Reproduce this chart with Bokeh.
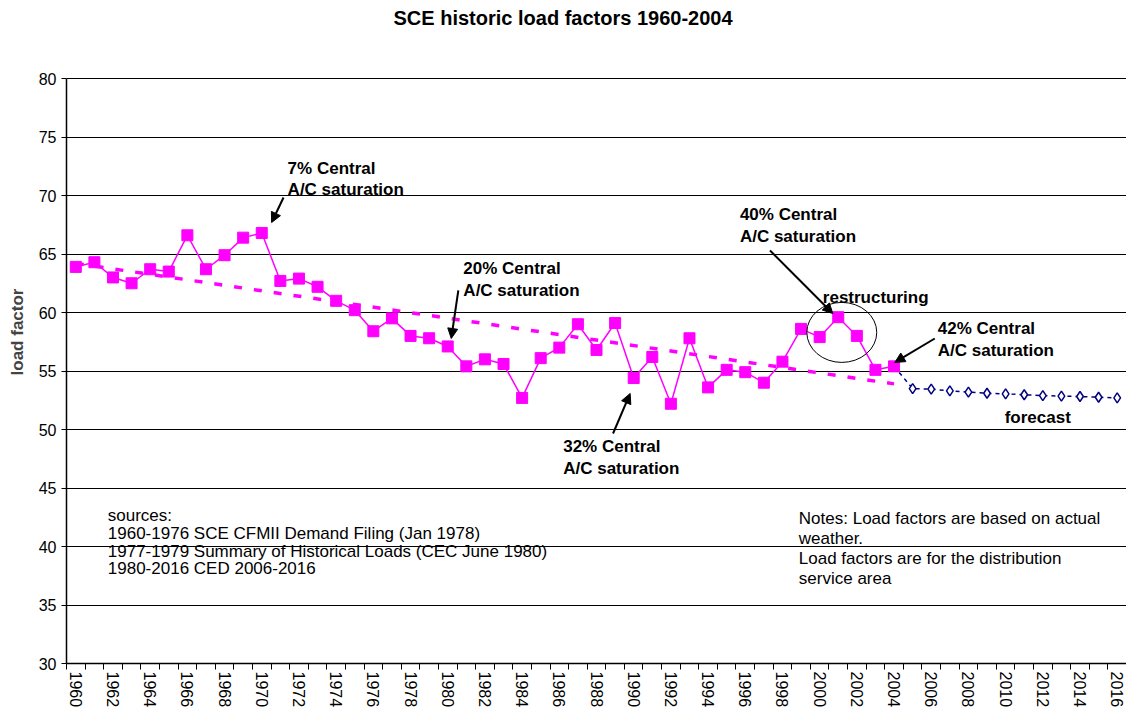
from bokeh.plotting import figure
from bokeh.models import Range1d, FixedTicker, Label, Arrow, NormalHead
from bokeh.embed import file_html
from bokeh.resources import INLINE

# ---------------- data ----------------
hist_years = list(range(1960, 2005))
hist_lf = [63.9, 64.3, 63.0, 62.5, 63.7, 63.5, 66.6, 63.7, 64.9, 66.4,
           66.8, 62.7, 62.9, 62.2, 61.0, 60.2, 58.4, 59.5, 58.0, 57.8,
           57.1, 55.4, 56.0, 55.6, 52.7, 56.1, 57.0, 59.0, 56.8, 59.1,
           54.4, 56.2, 52.2, 57.8, 53.6, 55.1, 54.9, 54.0, 55.8, 58.6,
           57.9, 59.6, 58.0, 55.1, 55.4]
fc_years = list(range(2004, 2017))
fc_lf = [55.4, 53.5, 53.45, 53.3, 53.2, 53.1, 53.05, 52.97, 52.9, 52.85,
         52.82, 52.76, 52.7]
trend_years = [1960, 2004]
trend_lf = [64.2, 53.9]

y_ticks = [30, 35, 40, 45, 50, 55, 60, 65, 70, 75, 80]
x_label_years = list(range(1960, 2017, 2))
x_tick_marks = [y - 0.5 for y in range(1960, 2018)]

FONT = "Liberation Sans"
MAG = "#FF00FF"
NAVY = "#000080"

# frame spans the whole height above the axis; the value axis itself is
# bounded to 30-80 so the title can sit in the headroom above it
p = figure(width=1126, height=713, output_backend="svg", toolbar_location=None,
           x_range=Range1d(1959.5, 2016.5), y_range=Range1d(30, 86.67),
           min_border_left=66, min_border_right=0, min_border_top=0,
           min_border_bottom=50)

p.outline_line_color = None
p.xgrid.visible = False
p.ygrid.ticker = FixedTicker(ticks=y_ticks)
p.ygrid.grid_line_color = "black"
p.ygrid.grid_line_width = 1

# y axis
p.yaxis.ticker = FixedTicker(ticks=y_ticks)
p.yaxis.bounds = (30, 80)
p.yaxis.axis_label = "load factor"
p.yaxis.axis_label_text_font = FONT
p.yaxis.axis_label_text_font_size = "17px"
p.yaxis.axis_label_text_font_style = "bold"
p.yaxis.axis_label_standoff = 9
p.yaxis.major_label_text_font = FONT
p.yaxis.major_label_text_font_size = "16px"
p.yaxis.major_label_text_color = "black"
p.yaxis.axis_line_color = "black"
p.yaxis.axis_line_width = 1.5
p.yaxis.major_tick_line_color = "black"
p.yaxis.major_tick_out = 5
p.yaxis.major_tick_in = 0
p.yaxis.minor_tick_line_color = None
p.yaxis.major_label_standoff = 5

# x axis
p.xaxis.ticker = FixedTicker(ticks=x_label_years, minor_ticks=x_tick_marks)
p.xaxis.major_tick_line_color = None
p.xaxis.major_tick_out = 6
p.xaxis.minor_tick_line_color = "black"
p.xaxis.minor_tick_out = 6
p.xaxis.minor_tick_in = 0
p.xaxis.axis_line_color = "black"
p.xaxis.axis_line_width = 1.5
p.xaxis.major_label_orientation = "vertical"
p.xaxis.major_label_text_font = FONT
p.xaxis.major_label_text_font_size = "16px"
p.xaxis.major_label_text_color = "black"
p.xaxis.major_label_standoff = 2

# series
p.line(trend_years, trend_lf, line_color=MAG, line_width=3.5, line_dash="8 12")
p.line(fc_years, fc_lf, line_color=NAVY, line_width=1.5, line_dash="4 4")
p.scatter(fc_years[1:], fc_lf[1:], marker="diamond", size=10,
          line_color=NAVY, line_width=1.5, fill_color="white")
p.line(hist_years, hist_lf, line_color=MAG, line_width=1.5)
p.scatter(hist_years, hist_lf, marker="square", size=11,
          line_color=MAG, fill_color=MAG)

# circle around restructuring years
p.ellipse(x=2001.19, y=58.3, width=3.76, height=5.13,
          fill_color=None, line_color="black", line_width=1)


def blabel(x, y, text, bold=True, size="17px", align="left"):
    p.add_layout(Label(x=x, y=y, text=text, text_font=FONT,
                       text_font_size=size,
                       text_font_style="bold" if bold else "normal",
                       text_baseline="middle", text_align=align,
                       text_color="black"))


def arrow(x0, y0, x1, y1):
    p.add_layout(Arrow(x_start=x0, y_start=y0, x_end=x1, y_end=y1,
                       line_color="black", line_width=2,
                       end=NormalHead(size=10, fill_color="black",
                                      line_color="black")))


# chart title
blabel(1986.2, 85.2, "SCE historic load factors 1960-2004", size="20px",
       align="center")

blabel(1971.39, 72.31, "7% Central")
blabel(1971.39, 70.51, "A/C saturation")
arrow(1971.17, 69.83, 1970.53, 67.69)

blabel(1980.84, 63.76, "20% Central")
blabel(1980.84, 61.88, "A/C saturation")
arrow(1980.57, 61.9, 1980.19, 57.78)

blabel(1986.21, 48.55, "32% Central")
blabel(1986.21, 46.67, "A/C saturation")
arrow(1988.89, 49.66, 1989.81, 53.08)

blabel(1995.71, 68.38, "40% Central")
blabel(1995.71, 66.50, "A/C saturation")
arrow(1997.33, 65.30, 2000.71, 59.91)

blabel(2000.17, 61.28, "restructuring")

blabel(2006.35, 58.63, "42% Central")
blabel(2006.35, 56.75, "A/C saturation")
arrow(2006.19, 57.78, 2004.04, 55.73)

blabel(2009.95, 51.03, "forecast")

sources = ["sources:",
           "1960-1976 SCE CFMII Demand Filing (Jan 1978)",
           "1977-1979 Summary of Historical Loads (CEC June 1980)",
           "1980-2016 CED 2006-2016"]
for i, s in enumerate(sources):
    blabel(1961.72, 42.65 - i * 1.52, s, bold=False)

notes = ["Notes: Load factors are based on actual",
         "weather.",
         "Load factors are for the distribution",
         "service area"]
for i, s in enumerate(notes):
    blabel(1998.88, 42.39 - i * 1.71, s, bold=False)

open("out.html", "w").write(file_html(p, INLINE))
